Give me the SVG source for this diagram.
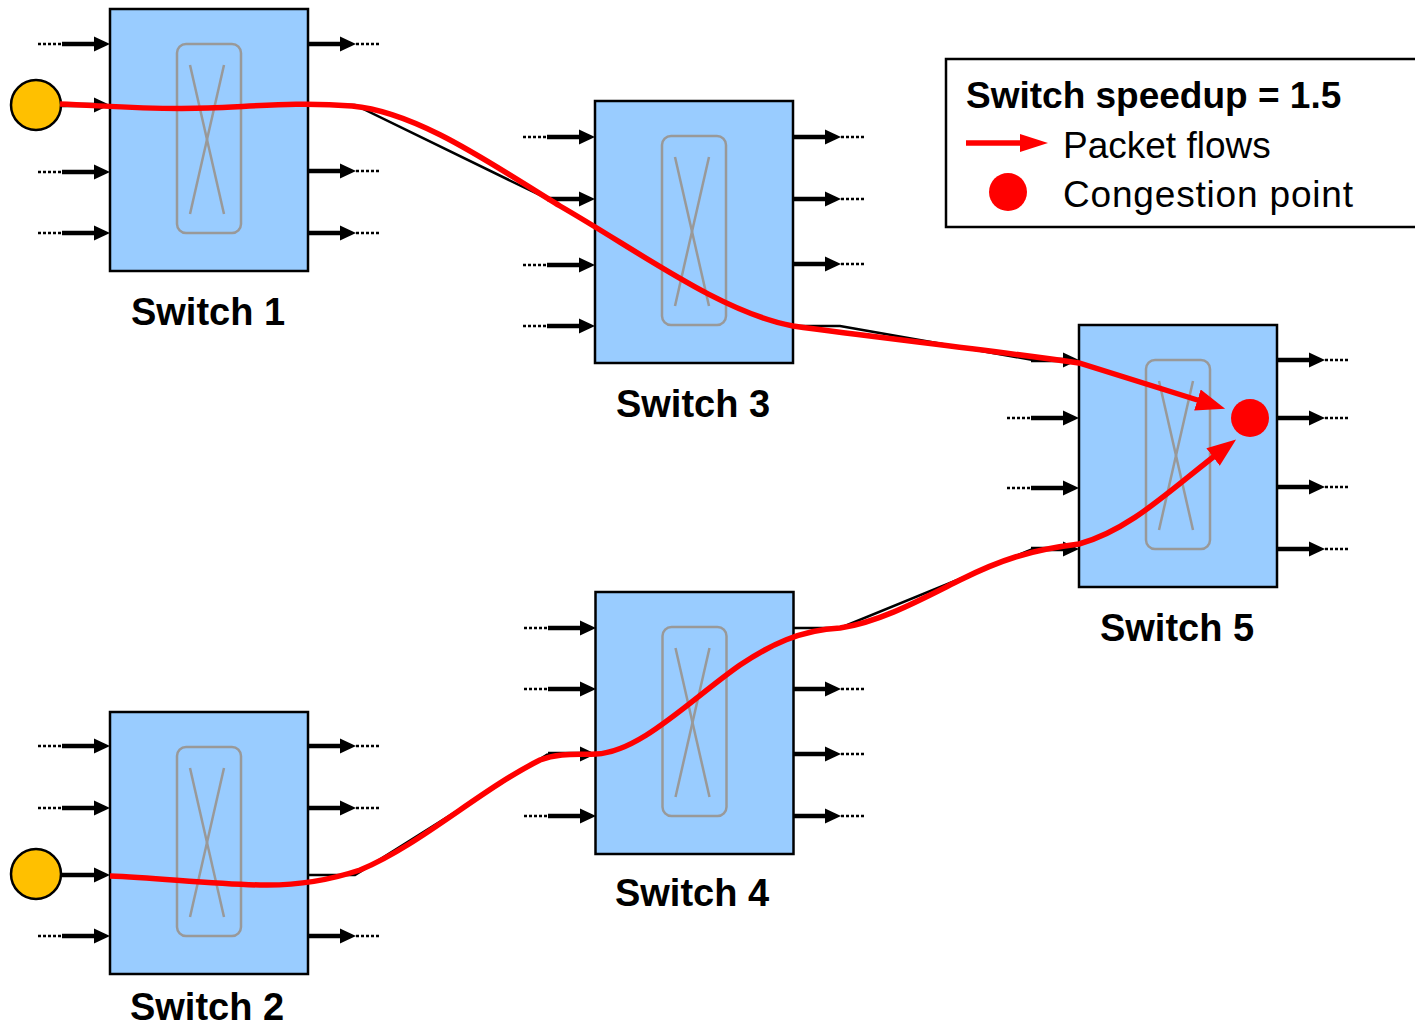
<svg xmlns="http://www.w3.org/2000/svg" xmlns:xlink="http://www.w3.org/1999/xlink" width="1415" height="1029" viewBox="0 0 1415 1029">
<style>
.sw{fill:#99CCFF;stroke:#000;stroke-width:2.5}
.xb{fill:none;stroke:#999;stroke-width:2.5}
.shaft{stroke:#000;stroke-width:4.5;fill:none}
.dots{stroke:#000;stroke-width:2.5;stroke-dasharray:3 2;fill:none}
.thin{stroke:#000;stroke-width:2.5;fill:none}
.flow{stroke:#FF0000;stroke-width:5.5;fill:none;marker-end:url(#rh)}
.lbl{font-family:"Liberation Sans",Arial,sans-serif;font-weight:bold;font-size:38px;text-anchor:middle;fill:#000}
.lg{font-family:"Liberation Sans",Arial,sans-serif;font-size:37px;fill:#000}
</style>
<defs>
<marker id="rh" markerUnits="userSpaceOnUse" markerWidth="30" markerHeight="24" refX="10" refY="11" orient="auto"><path d="M0,0 L29,11 L0,22 z" fill="#FF0000"/></marker>
<g id="in"><line class="dots" x1="-72" y1="0" x2="-48" y2="0"/><line class="shaft" x1="-48" y1="0" x2="-14" y2="0"/><path d="M-16,-7.5 L0,0 L-16,7.5 z" fill="#000"/></g>
<g id="inN"><line class="shaft" x1="-48" y1="0" x2="-14" y2="0"/><path d="M-16,-7.5 L0,0 L-16,7.5 z" fill="#000"/></g>
<g id="out"><line class="shaft" x1="0" y1="0" x2="34" y2="0"/><path d="M32,-7.5 L48,0 L32,7.5 z" fill="#000"/><line class="dots" x1="48" y1="0" x2="72" y2="0"/></g>
<g id="core"><rect class="sw" x="0" y="0" width="198" height="262"/><rect class="xb" x="67" y="35" width="64" height="189" rx="9"/><line class="xb" x1="80" y1="56" x2="114" y2="205"/><line class="xb" x1="114" y1="56" x2="80" y2="205"/></g>
</defs>
<rect width="1415" height="1029" fill="#fff"/>

<g id="switch1">
<use xlink:href="#core" x="110" y="9"/>
<use xlink:href="#in" x="110" y="44"/><use xlink:href="#in" x="110" y="105"/><use xlink:href="#in" x="110" y="172"/><use xlink:href="#in" x="110" y="233"/>
<use xlink:href="#out" x="308" y="44"/><use xlink:href="#out" x="308" y="171"/><use xlink:href="#out" x="308" y="233"/>
<text class="lbl" x="208" y="325">Switch 1</text>
</g>
<g id="switch3">
<use xlink:href="#core" x="595" y="101"/>
<use xlink:href="#in" x="595" y="137"/><use xlink:href="#in" x="595" y="265"/><use xlink:href="#in" x="595" y="326"/>
<use xlink:href="#out" x="793" y="137"/><use xlink:href="#out" x="793" y="199"/><use xlink:href="#out" x="793" y="264"/>
<text class="lbl" x="693" y="417">Switch 3</text>
</g>
<g id="switch5">
<use xlink:href="#core" x="1079" y="325"/>
<use xlink:href="#in" x="1079" y="418"/><use xlink:href="#in" x="1079" y="488"/>
<use xlink:href="#out" x="1277" y="360"/><use xlink:href="#out" x="1277" y="418"/><use xlink:href="#out" x="1277" y="487"/><use xlink:href="#out" x="1277" y="549"/>
<text class="lbl" x="1177" y="641">Switch 5</text>
</g>
<g id="switch2">
<use xlink:href="#core" x="110" y="712"/>
<use xlink:href="#in" x="110" y="746"/><use xlink:href="#in" x="110" y="808"/><use xlink:href="#in" x="110" y="875"/><use xlink:href="#in" x="110" y="936"/>
<use xlink:href="#out" x="308" y="746"/><use xlink:href="#out" x="308" y="808"/><use xlink:href="#out" x="308" y="936"/>
<text class="lbl" x="207" y="1020">Switch 2</text>
</g>
<g id="switch4">
<use xlink:href="#core" x="595.5" y="592"/>
<use xlink:href="#in" x="596" y="628"/><use xlink:href="#in" x="596" y="689"/><use xlink:href="#in" x="596" y="816"/>
<use xlink:href="#out" x="793" y="689"/><use xlink:href="#out" x="793" y="754"/><use xlink:href="#out" x="793" y="816"/>
<text class="lbl" x="692" y="906">Switch 4</text>
</g>

<g id="sources">
<circle id="src1" cx="36" cy="105" r="25" fill="#FFC000" stroke="#000" stroke-width="2.5"/>
<circle id="src2" cx="36" cy="874" r="25" fill="#FFC000" stroke="#000" stroke-width="2.5"/>
</g>

<g id="connectors">
<polyline class="thin" points="308,105 355,105 548,199"/><use xlink:href="#inN" x="595" y="199"/>
<polyline class="thin" points="793,326 840,326 1033,360"/><use xlink:href="#inN" x="1079" y="360"/>
<polyline class="thin" points="308,875 355,875 548,754"/><use xlink:href="#inN" x="596" y="754"/>
<polyline class="thin" points="793,628 840,628 1033,549"/><use xlink:href="#inN" x="1079" y="549"/>
</g>

<g id="flows">
<path class="flow" d="M60,104 C110,106 150,110 208,108 C260,106 300,102 352,106 C420,112 500,170 560,206 C640,252 720,312 793,326 C880,338 990,350 1079,363 L1207,403"/>
<path class="flow" d="M110,876 C160,878 210,884 260,885 C300,886 330,880 360,870 C420,845 480,790 540,760 C560,752 580,755 596,754 C640,752 690,700 740,665 C770,645 800,630 840,628 C880,622 920,600 960,580 C1000,560 1030,550 1079,544 C1130,530 1170,490 1221,451"/>
</g>

<circle id="congestion" cx="1250" cy="418" r="19" fill="#FF0000"/>

<g id="legend">
<rect x="946" y="59" width="480" height="168" fill="#fff" stroke="#000" stroke-width="2.5"/>
<text class="lg" x="966" y="108" font-weight="bold">Switch speedup = 1.5</text>
<line x1="966" y1="143" x2="1024" y2="143" stroke="#FF0000" stroke-width="5.5"/>
<path d="M1020,134 L1048,143 L1020,152 z" fill="#FF0000"/>
<text class="lg" x="1063" y="158">Packet flows</text>
<circle cx="1008" cy="192" r="19" fill="#FF0000"/>
<text class="lg" x="1063" y="207" textLength="290" lengthAdjust="spacing">Congestion point</text>
</g>
</svg>
